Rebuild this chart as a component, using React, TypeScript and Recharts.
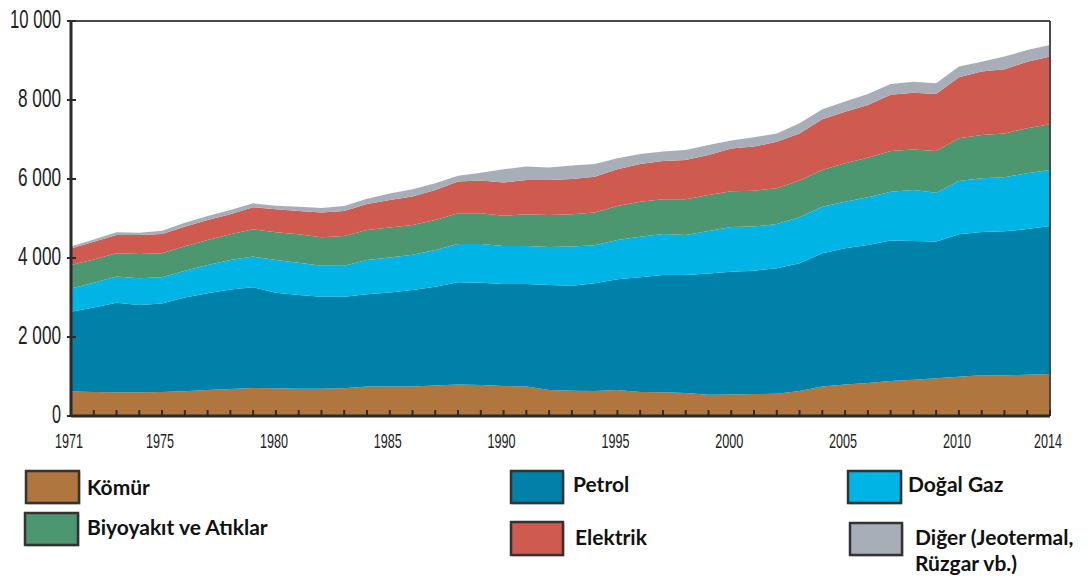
import { AreaChart, Area, XAxis, YAxis, ReferenceLine } from "recharts";

// Türkiye nihai enerji tüketimi (bin TEP), 1971-2014
const years = [
  1971, 1972, 1973, 1974, 1975, 1976, 1977, 1978, 1979, 1980,
  1981, 1982, 1983, 1984, 1985, 1986, 1987, 1988, 1989, 1990,
  1991, 1992, 1993, 1994, 1995, 1996, 1997, 1998, 1999, 2000,
  2001, 2002, 2003, 2004, 2005, 2006, 2007, 2008, 2009, 2010,
  2011, 2012, 2013, 2014,
];

const komur = [
  620, 610, 600, 600, 610, 625, 660, 685, 710, 700,
  690, 690, 700, 745, 745, 745, 770, 800, 785, 760,
  745, 660, 640, 635, 660, 610, 600, 580, 540, 545,
  555, 565, 635, 745, 800, 835, 885, 920, 955, 995,
  1030, 1030, 1045, 1065,
];
const petrol = [
  2020, 2140, 2270, 2210, 2240, 2375, 2445, 2520, 2550, 2420,
  2375, 2330, 2320, 2335, 2380, 2445, 2505, 2585, 2590, 2580,
  2595, 2655, 2660, 2725, 2800, 2900, 2970, 2990, 3070, 3110,
  3125, 3175, 3230, 3375, 3445, 3495, 3555, 3510, 3460, 3605,
  3630, 3645, 3690, 3745,
];
const dogalGaz = [
  590, 625, 660, 680, 660, 680, 715, 745, 775, 830,
  815, 785, 785, 870, 885, 890, 925, 970, 980, 965,
  965, 965, 990, 960, 995, 1030, 1040, 1015, 1075, 1130,
  1115, 1120, 1165, 1180, 1180, 1205, 1240, 1290, 1240, 1350,
  1360, 1370, 1410, 1420,
];
const biyoyakit = [
  590, 590, 590, 610, 610, 620, 635, 650, 690, 700,
  720, 720, 755, 760, 765, 755, 765, 775, 775, 765,
  800, 810, 815, 830, 860, 885, 875, 900, 910, 905,
  910, 905, 930, 930, 975, 1005, 1030, 1030, 1055, 1080,
  1095, 1110, 1140, 1155,
];
const elektrik = [
  420, 445, 460, 480, 490, 490, 505, 505, 560, 585,
  590, 625, 630, 660, 695, 720, 755, 805, 830, 840,
  870, 885, 895, 910, 930, 955, 970, 995, 1015, 1085,
  1115, 1175, 1195, 1280, 1305, 1335, 1420, 1435, 1445, 1545,
  1605, 1625, 1685, 1715,
];
const diger = [
  50, 60, 70, 60, 80, 100, 105, 110, 100, 90,
  110, 115, 125, 130, 160, 185, 170, 145, 200, 335,
  340, 315, 340, 320, 280, 255, 240, 255, 250, 200,
  235, 215, 255, 255, 255, 280, 275, 280, 270, 270,
  250, 320, 295, 295,
];

const xLabelYears = [1971, 1975, 1980, 1985, 1990, 1995, 2000, 2005, 2010, 2014];
const yTicks = [0, 2000, 4000, 6000, 8000, 10000];

const series = [
  { key: "komur", name: "Kömür", color: "#AF763F" },
  { key: "petrol", name: "Petrol", color: "#0081AA" },
  { key: "dogalGaz", name: "Doğal Gaz", color: "#00B4E6" },
  { key: "biyoyakit", name: "Biyoyakıt ve Atıklar", color: "#4D9770" },
  { key: "elektrik", name: "Elektrik", color: "#CE5A50" },
  { key: "diger", name: "Diğer (Jeotermal, Rüzgar vb.)", color: "#A8AEB8" },
];

const data = years.map((year, i) => ({
  year,
  komur: komur[i],
  petrol: petrol[i],
  dogalGaz: dogalGaz[i],
  biyoyakit: biyoyakit[i],
  elektrik: elektrik[i],
  diger: diger[i],
}));

const AXIS = "#2b2b2b";
const axisFont = "'Liberation Sans', Arial, sans-serif";

function XTick(props: any) {
  const { x, y, payload } = props;
  const showLabel = xLabelYears.includes(payload.value);
  return (
    <g>
      <line x1={x} y1={y} x2={x} y2={y - 6} stroke={AXIS} strokeWidth={2} />
      {showLabel && (
        <text
          x={x - 2}
          y={y + 32}
          textAnchor="middle"
          fontFamily={axisFont}
          fontSize={21}
          fill="#222"
          textLength={28}
          lengthAdjust="spacingAndGlyphs"
        >
          {payload.value}
        </text>
      )}
    </g>
  );
}

function YTick(props: any) {
  const { x, y, payload } = props;
  const v = payload.value as number;
  const label = v === 0 ? "0" : `${v / 1000} 000`;
  const len = v === 0 ? 9 : v >= 10000 ? 51 : 43;
  return (
    <g>
      <line x1={x - 4} y1={y} x2={x + 5} y2={y} stroke={AXIS} strokeWidth={2} />
      <text
        x={x - 10}
        y={y + 7}
        textAnchor="end"
        fontFamily={axisFont}
        fontSize={26}
        fill="#222"
        textLength={len}
        lengthAdjust="spacingAndGlyphs"
      >
        {label}
      </text>
    </g>
  );
}

// legend boxes and texts, laid out like the original figure
const legendItems = [
  { i: 0, box: [26, 471, 53, 32], text: [87, 495], lines: ["Kömür"] },
  { i: 3, box: [25, 513, 53, 32], text: [87, 535], lines: ["Biyoyakıt ve Atıklar"] },
  { i: 1, box: [511, 471, 52, 32], text: [573, 492], lines: ["Petrol"] },
  { i: 4, box: [511, 522, 52, 33], text: [575, 545], lines: ["Elektrik"] },
  { i: 2, box: [848, 471, 53, 32], text: [908, 492], lines: ["Doğal Gaz"] },
  { i: 5, box: [850, 523, 52, 32], text: [915, 545], lines: ["Diğer (Jeotermal,", "Rüzgar vb.)"] },
];

export default function App() {
  return (
    <div
      style={{
        position: "absolute",
        left: 0,
        top: 0,
        width: 1088,
        height: 579,
        background: "#fff",
        overflow: "hidden",
      }}
    >
      <AreaChart
        width={1088}
        height={460}
        data={data}
        margin={{ top: 21, right: 38, bottom: 0, left: 0 }}
      >
        <XAxis
          dataKey="year"
          type="number"
          domain={[1971, 2014]}
          ticks={years}
          interval={0}
          height={44}
          tickSize={0}
          tickMargin={0}
          tickLine={false}
          axisLine={{ stroke: AXIS, strokeWidth: 3 }}
          tick={<XTick />}
        />
        <YAxis
          type="number"
          domain={[0, 10000]}
          ticks={yTicks}
          width={71}
          tickSize={0}
          tickMargin={0}
          tickLine={false}
          axisLine={{ stroke: AXIS, strokeWidth: 3 }}
          tick={<YTick />}
        />
        {series.map((s) => (
          <Area
            key={s.key}
            type="linear"
            dataKey={s.key}
            name={s.name}
            stackId="1"
            fill={s.color}
            fillOpacity={1}
            stroke="none"
            isAnimationActive={false}
          />
        ))}
        <ReferenceLine y={10000} stroke="#4a4a4a" strokeWidth={2} />
        <ReferenceLine x={2014} stroke="#4a4a4a" strokeWidth={2} />
      </AreaChart>

      <svg
        width={1088}
        height={579}
        style={{ position: "absolute", left: 0, top: 0, pointerEvents: "none" }}
      >
        {legendItems.map((item) => {
          const s = series[item.i];
          const [bx, by, bw, bh] = item.box;
          return (
            <g key={s.key}>
              <rect x={bx + 1.5} y={by + 1.5} width={bw} height={bh} fill="#c8c8c8" />
              <rect
                x={bx}
                y={by}
                width={bw}
                height={bh}
                fill={s.color}
                stroke="#333"
                strokeWidth={2.5}
              />
              {item.lines.map((line, k) => (
                <text
                  key={line}
                  x={item.text[0]}
                  y={item.text[1] + k * 26}
                  fontFamily="Lato, 'Open Sans', sans-serif"
                  fontWeight={700}
                  fontSize={21}
                  fill="#111"
                >
                  {line}
                </text>
              ))}
            </g>
          );
        })}
      </svg>
    </div>
  );
}
